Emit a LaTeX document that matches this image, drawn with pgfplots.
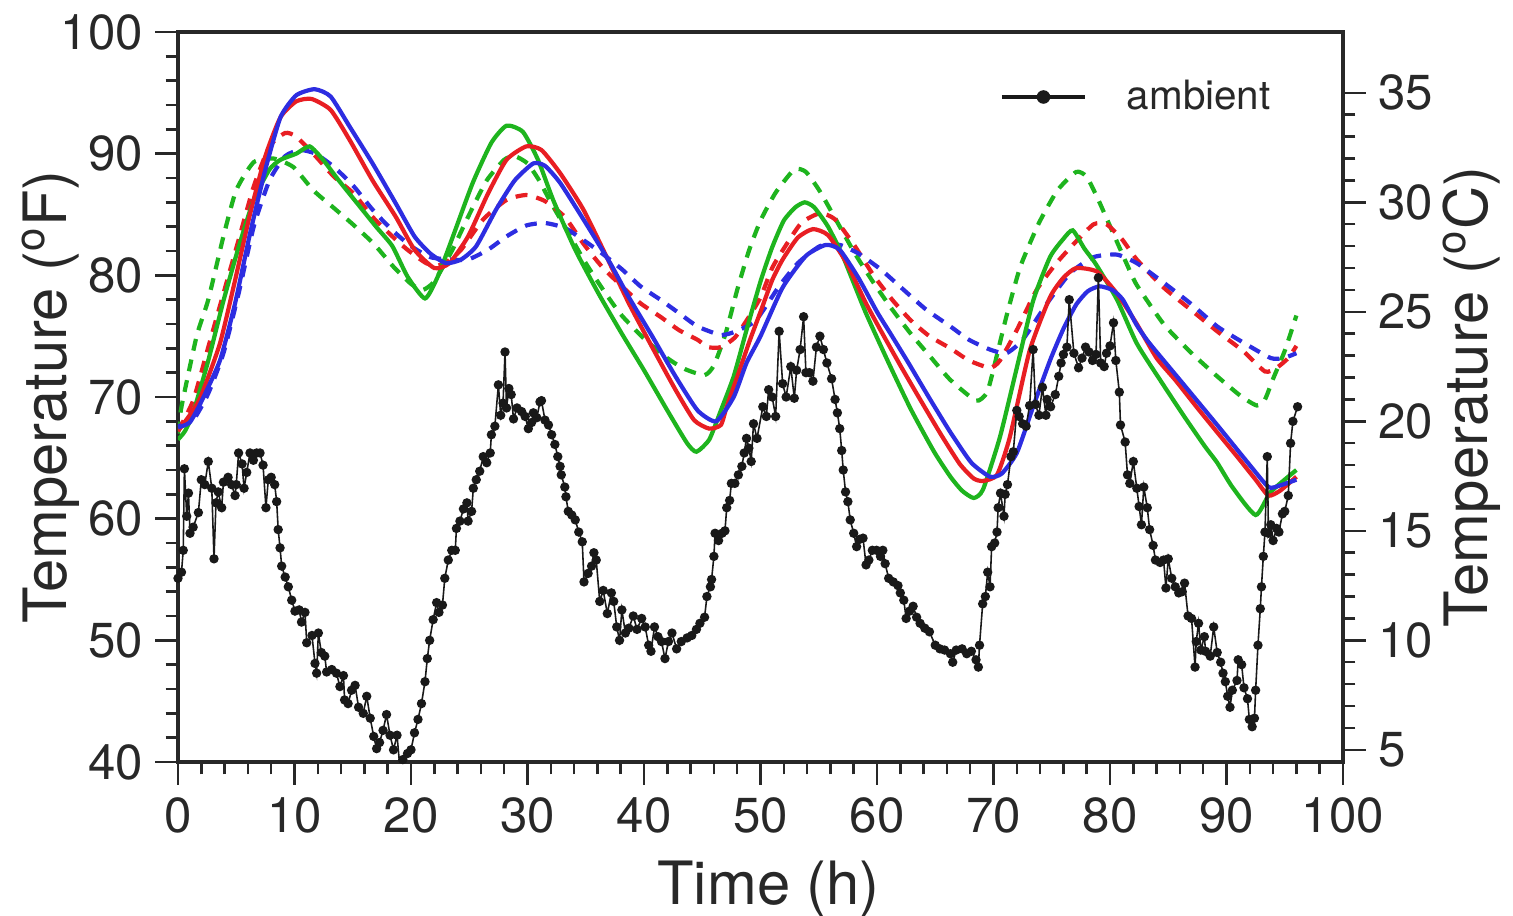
\documentclass[border=0pt]{standalone}
\usepackage{fontspec}
\setmainfont{TeX Gyre Heros}
\usepackage{pgfplots}
\usepackage{pgfplotstable}
\pgfplotsset{compat=1.18}

\definecolor{cgreen}{RGB}{30,180,30}
\definecolor{cred}{RGB}{232,30,35}
\definecolor{cblue}{RGB}{45,45,225}
\definecolor{axgray}{RGB}{40,40,40}

% ambient temperature (F)
\pgfplotstableread{
x y
0 55.1
0.3 55.6
0.45 57.4
0.55 64.1
0.75 60.2
0.9 62.1
1.03 58.8
1.3 59.3
1.75 60.5
2.0 63.2
2.3 62.8
2.6 64.7
2.9 62.5
3.09 56.7
3.26 61.3
3.45 62.2
3.75 60.9
3.9 63.0
4.3 63.4
4.6 62.8
4.9 61.9
5.0 62.8
5.2 65.4
5.5 64.5
5.67 62.5
5.9 63.8
6.18 65.4
6.47 64.8
6.75 65.4
7.04 65.4
7.3 64.4
7.55 60.9
7.75 63.2
8.0 63.4
8.3 62.8
8.47 61.4
8.6 59.1
8.76 57.6
8.9 56.1
9.2 55.2
9.47 54.4
9.76 53.3
10.04 52.4
10.4 52.5
10.6 51.5
10.9 52.3
11.05 49.8
11.5 50.4
11.76 48.1
11.9 47.3
12.05 50.6
12.3 49.0
12.6 48.7
12.76 47.4
13.2 47.6
13.6 47.3
13.9 46.2
14.2 47.1
14.3 45.1
14.6 44.8
14.9 45.9
15.2 46.3
15.5 44.5
15.9 44.0
16.2 45.4
16.5 43.6
16.8 42.1
17.05 41.1
17.3 41.6
17.6 42.6
17.9 43.9
18.2 42.2
18.5 41.0
18.8 42.2
19.06 39.4
19.3 40.2
19.7 40.7
20.0 41.0
20.3 42.4
20.6 43.5
20.9 44.8
21.2 46.6
21.4 48.5
21.6 50.0
21.9 51.7
22.2 53.1
22.4 52.3
22.7 52.9
22.9 55.1
23.2 56.6
23.5 57.4
23.8 57.4
23.9 59.2
24.2 59.8
24.5 60.8
24.8 61.3
24.9 59.8
25.2 60.6
25.35 62.5
25.6 63.2
25.9 63.9
26.2 65.1
26.5 64.6
26.8 65.4
26.9 66.9
27.2 67.6
27.5 71.0
27.7 68.5
27.9 69.5
28.07 73.7
28.2 69.1
28.4 70.7
28.6 70.2
28.8 68.2
29.1 69.1
29.5 68.8
29.8 68.4
30.07 67.4
30.35 67.9
30.5 68.7
30.8 68.3
31.07 69.6
31.2 69.7
31.5 68.1
31.8 67.7
32.07 66.9
32.35 66.1
32.6 65.1
32.8 64.3
32.9 63.6
33.2 62.6
33.3 61.8
33.5 60.6
33.8 60.3
34.1 59.9
34.4 58.9
34.7 58.1
34.85 54.8
35.2 55.5
35.5 56.1
35.7 57.2
35.9 56.6
36.2 53.2
36.5 54.1
36.85 52.2
37.2 53.9
37.4 53.2
37.66 51.1
37.9 50.0
38.1 52.5
38.4 50.6
38.7 51.0
39.08 52.0
39.4 50.9
39.8 51.8
40.1 51.1
40.4 49.6
40.6 49.1
40.9 51.1
41.2 50.3
41.5 49.9
41.8 48.5
42.1 49.9
42.4 50.6
42.8 49.3
43.2 49.9
43.7 50.2
44.1 50.4
44.5 50.9
44.8 51.4
45.2 51.9
45.4 53.6
45.7 54.4
45.8 55.0
46.0 56.9
46.1 58.8
46.4 58.2
46.7 58.8
46.95 59.0
47.1 60.9
47.35 61.5
47.5 62.9
47.8 62.9
48.1 63.6
48.4 64.3
48.6 65.4
48.8 66.6
49.0 65.8
49.2 64.7
49.4 67.8
49.7 66.6
50.2 69.2
50.5 68.4
50.7 70.6
51.0 70.0
51.3 68.4
51.6 75.4
51.9 71.1
52.2 70.0
52.6 72.5
52.9 69.9
53.1 72.2
53.4 73.9
53.7 76.6
53.9 72.0
54.2 72.0
54.5 71.3
54.8 74.1
55.1 75.0
55.4 73.9
55.7 72.8
56.1 71.5
56.4 69.8
56.6 68.7
56.8 67.4
56.97 65.6
57.1 64.0
57.3 62.2
57.5 61.4
57.7 59.9
58.0 58.8
58.25 57.7
58.5 58.3
58.8 58.4
59.06 56.2
59.3 56.6
59.6 57.4
59.96 57.4
60.3 56.9
60.5 57.4
60.7 56.3
61.0 55.1
61.4 54.8
61.8 54.5
62.0 53.9
62.3 53.3
62.5 51.8
62.8 52.4
63.1 52.8
63.4 51.9
63.7 51.4
64.1 51.0
64.5 50.7
65.0 49.6
65.4 49.3
65.8 49.2
66.3 48.9
66.5 48.2
66.8 49.2
67.3 49.3
67.7 48.9
68.1 49.1
68.5 48.4
68.7 47.8
68.8 49.6
69.07 53.0
69.3 53.6
69.5 55.6
69.7 54.4
69.84 57.7
70.1 58.0
70.3 58.9
70.4 60.9
70.6 62.1
70.9 60.2
71.0 62.0
71.2 62.8
71.5 65.1
71.7 65.5
72.0 68.9
72.2 68.4
72.5 67.8
72.8 67.6
73.1 69.3
73.4 73.9
73.6 69.4
73.9 68.5
74.2 70.8
74.5 68.5
74.6 69.8
74.9 69.2
75.3 70.2
75.6 71.7
75.8 72.8
76.0 73.5
76.3 74.1
76.5 78.0
76.9 73.6
77.3 72.4
77.6 73.2
77.9 74.1
78.2 73.7
78.5 73.0
78.8 73.5
79.0 79.8
79.2 72.8
79.5 72.5
79.7 73.6
80.0 74.2
80.3 76.1
80.5 73.0
80.8 70.4
80.9 67.7
81.3 66.3
81.5 63.6
81.7 62.9
82.0 64.7
82.3 62.5
82.5 61.0
82.7 59.5
82.9 62.6
83.2 60.9
83.4 59.1
83.7 57.8
83.9 56.6
84.3 56.4
84.6 56.6
84.8 54.3
85.0 56.7
85.3 55.1
85.6 54.4
85.9 53.9
86.2 54.0
86.4 54.7
86.7 52.0
87.0 51.8
87.3 47.8
87.4 49.9
87.6 51.4
87.8 49.2
88.1 50.3
88.2 49.1
88.6 48.7
88.9 51.1
89.2 49.0
89.5 48.2
89.7 47.3
89.9 46.6
90.1 45.4
90.3 44.5
90.5 45.9
90.9 46.7
91.0 48.4
91.3 48.0
91.5 46.1
91.8 45.2
91.96 43.5
92.2 42.9
92.4 43.6
92.5 45.9
92.7 49.6
92.9 52.6
93.0 54.4
93.16 56.9
93.3 58.9
93.5 65.1
93.6 58.8
93.8 59.5
94.0 58.2
94.3 59.2
94.5 58.9
94.8 60.4
95.0 60.6
95.3 61.9
95.5 66.2
95.7 68.0
96.1 69.2
}\ambient

% solid green
\pgfplotstableread{
x y
0 66.5
0.6 67.2
1.3 68.7
2.6 73.0
3.9 77.9
5.2 82.3
6.5 86.2
7.85 88.7
8.8 89.5
10.15 90.0
11.3 90.6
12.45 89.5
13.8 87.8
15.4 85.9
17.0 84.0
18.4 82.4
19.7 79.9
21.2 78.1
22.3 79.9
23.6 83.2
25.3 87.6
26.9 90.9
28.2 92.3
29.6 91.8
30.9 89.5
32.2 86.2
34.1 82.1
36.1 78.5
38.1 75.2
40.0 72.2
42.0 68.9
43.7 66.2
44.5 65.5
45.6 66.5
46.6 68.9
47.7 71.7
48.8 75.5
50.0 79.5
51.0 82.3
52.0 84.5
53.0 85.6
53.8 86.0
54.6 85.6
55.8 84.0
57.1 81.5
59.0 77.0
61.0 72.8
62.9 69.0
64.9 65.5
66.3 63.45
67.3 62.3
68.3 61.7
69.1 62.4
70.55 66.7
72.0 72.4
73.4 77.9
74.85 81.5
76.0 83.0
76.8 83.7
77.8 82.2
78.8 80.9
80.6 78.0
82.3 74.4
84.3 71.4
86.3 68.5
88.1 66.0
89.2 64.6
90.5 62.6
92.5 60.3
93.8 62.2
96.0 64.0
}\sgreen

% solid red
\pgfplotstableread{
x y
0 67.2
1.0 68.5
1.94 70.0
3.6 74.4
4.9 79.6
6.2 85.1
7.5 89.8
8.8 93.0
10.15 94.3
11.46 94.5
13.1 93.6
14.75 91.1
16.7 87.8
18.7 84.8
20.3 82.1
22.0 80.6
23.3 81.0
24.9 83.2
26.6 86.7
28.2 89.5
29.9 90.6
31.2 90.3
32.8 88.4
34.8 85.4
36.8 81.5
38.7 77.7
40.7 74.1
42.7 70.6
44.3 68.1
45.6 67.4
46.6 67.7
47.1 69.2
48.2 72.2
49.1 74.7
50.0 77.0
51.0 79.6
51.9 81.3
53.2 83.1
54.5 83.8
55.8 83.3
57.4 81.0
59.0 77.8
60.3 75.5
62.0 72.6
63.7 69.8
65.5 66.9
67.1 64.5
68.3 63.3
69.1 63.1
70.3 63.6
71.4 66.7
73.1 73.8
74.85 78.2
76.0 79.8
77.1 80.6
78.9 80.3
80.6 78.5
82.3 76.0
84.0 73.2
85.6 71.4
87.5 69.1
89.2 67.1
91.0 65.0
92.5 63.2
93.6 61.9
94.6 62.3
96.0 63.45
}\sred

% solid blue
\pgfplotstableread{
x y
0 67.5
1.0 67.9
1.94 69.5
3.6 73.0
4.9 77.7
6.2 83.5
7.5 88.7
8.8 93.0
10.15 94.8
11.73 95.3
13.1 94.7
14.75 92.2
16.7 89.2
18.7 85.9
20.3 83.2
21.65 81.8
23.0 81.0
24.3 81.3
25.6 82.4
27.3 85.4
28.9 87.8
30.5 89.2
31.5 89.0
32.8 87.6
34.8 84.6
37.1 81.0
38.7 78.2
40.7 75.0
42.7 71.7
44.6 68.9
46.2 68.0
47.7 70.0
48.8 72.8
50.0 75.0
51.9 79.0
53.9 81.6
55.6 82.5
56.8 82.1
58.4 79.8
60.0 77.0
61.1 75.3
62.7 72.8
64.5 69.9
66.3 67.1
68.1 64.6
69.7 63.45
70.7 63.7
72.0 65.4
73.4 69.2
74.85 73.0
76.0 75.6
77.1 77.6
78.1 78.7
79.1 79.1
80.2 78.8
81.1 78.0
82.3 75.9
83.4 74.4
86.0 71.4
89.2 67.7
92.0 64.4
93.6 62.6
94.5 62.7
96.0 63.2
}\sblue

% dashed green
\pgfplotstableread{
x y
0 67.0
0.3 69.2
1.6 75.0
2.6 78.0
3.9 83.2
5.0 87.0
6.5 89.3
8.2 89.6
9.9 88.9
11.6 87.0
13.3 85.6
15.0 84.2
16.8 82.6
18.5 80.7
20.0 79.3
21.0 78.8
22.0 79.5
23.5 82.0
25.0 85.0
26.5 87.8
28.0 89.5
28.9 89.8
30.0 89.2
31.0 87.8
32.0 86.0
33.5 83.5
35.0 81.0
36.5 78.8
38.0 76.8
40.0 74.8
42.0 73.2
43.5 72.3
45.2 71.8
46.0 72.6
47.0 75.2
48.0 78.8
49.0 82.0
50.0 84.5
51.3 86.8
52.9 88.7
53.9 88.5
55.1 86.9
56.4 84.7
58.1 81.8
59.7 79.4
61.3 77.2
62.9 75.2
64.5 73.4
66.3 71.4
68.5 69.7
69.4 70.3
69.9 71.9
71.1 76.6
72.3 80.7
73.9 84.3
75.5 87.0
77.1 88.5
78.0 88.1
79.0 86.2
80.3 83.4
81.5 80.8
82.3 79.2
84.6 76.0
86.9 73.7
89.2 71.7
91.2 70.1
92.6 69.3
93.3 69.8
94.0 71.5
95.0 73.8
96.0 76.7
}\dgreen

% dashed red
\pgfplotstableread{
x y
0 67.2
1.3 69.7
2.6 74.1
3.9 78.5
5.2 82.9
6.5 87.3
7.85 90.6
9.2 91.7
10.15 91.4
11.8 89.8
13.4 88.1
15.1 86.7
16.7 84.8
18.4 83.2
19.7 82.1
21.3 81.0
22.3 80.8
23.2 81.2
24.3 82.1
26.2 84.6
28.2 86.2
29.9 86.6
31.5 86.1
33.2 84.8
34.8 82.6
36.4 80.7
38.1 79.1
39.7 77.7
41.4 76.6
43.0 75.5
44.6 74.7
45.5 74.1
46.6 74.1
47.9 75.0
49.9 78.0
51.0 80.6
52.0 82.2
53.5 84.3
55.1 85.1
56.4 84.6
58.1 82.4
59.7 80.0
61.3 78.0
62.9 76.3
64.5 75.0
66.3 74.0
67.9 73.0
69.7 72.4
70.55 73.0
72.0 75.5
73.7 78.8
75.4 81.0
77.1 82.8
78.6 84.2
79.7 84.2
81.0 83.0
82.3 81.3
84.6 79.0
86.9 77.2
89.2 75.4
91.4 73.8
93.3 72.1
94.3 72.4
95.3 73.2
96.0 74.2
}\dred

% dashed blue
\pgfplotstableread{
x y
0 67.6
1.3 68.1
2.6 70.3
3.9 73.6
5.2 78.5
6.5 84.0
7.85 87.8
9.2 89.8
10.5 90.3
11.8 90.0
13.4 88.9
15.1 87.3
16.7 85.4
18.4 83.7
20.0 82.4
21.65 81.5
23.3 81.3
24.9 81.3
26.6 82.1
28.2 83.2
29.9 84.1
31.5 84.3
33.2 83.9
34.8 82.9
36.4 81.8
38.1 80.5
39.7 79.1
41.4 78.0
43.0 76.9
44.6 75.8
46.6 75.1
47.9 75.4
49.6 76.3
51.6 79.1
53.2 81.0
55.1 82.4
56.8 82.5
58.4 81.8
60.3 80.5
62.3 78.8
64.2 77.2
66.3 75.8
67.9 74.7
69.7 73.9
71.1 73.6
72.5 74.7
74.6 77.7
76.6 80.2
78.6 81.5
80.6 81.7
82.3 81.0
84.6 79.4
86.9 77.7
89.2 75.8
91.4 74.5
93.8 73.2
94.9 73.2
96.0 73.6
}\dblue

\begin{document}
\begin{tikzpicture}
\useasboundingbox (-1.78cm,-1.54cm) rectangle (13.35cm,7.62cm);
\begin{axis}[
  scale only axis, width=11.65cm, height=7.30cm,
  xmin=0, xmax=100, ymin=40, ymax=100,
  xtick={0,10,...,100}, ytick={40,50,...,100},
  minor x tick num=4, minor y tick num=4,
  xtick pos=bottom, ytick pos=left,
  tick align=outside,
  major tick length=6.5pt, minor tick length=3.5pt,
  tick style={line width=0.7pt, axgray},
  axis line style={line width=1pt, axgray},
  tick label style={font=\fontsize{14}{16}\selectfont, text=axgray},
  /pgf/number format/assume math mode=true,
  every axis x label/.style={at={(axis description cs:0.507,-0.118)}, anchor=north},
  every axis y label/.style={at={(axis description cs:-0.074,0.5)}, rotate=90, anchor=south},
  label style={font=\fontsize{17}{20}\selectfont, text=axgray},
  xlabel={Time (h)},
  ylabel={Temperature (\textsuperscript{o}F)},
  legend style={at={(axis description cs:0.705,0.911)}, anchor=west, draw=none, fill=none,
    font=\fontsize{11.5}{13}\selectfont, text=axgray, inner sep=0pt,
    nodes={inner sep=0pt}, column sep=0.4cm},
  legend image code/.code={
    \draw[#1, line width=1.1pt] (0cm,0cm) -- (0.83cm,0cm);
    \draw[#1, mark size=1.7pt] plot coordinates {(0.415cm,0cm)};},
  solidc/.style={line width=1.2pt, smooth, tension=0.35},
  dashc/.style={line width=1.2pt, smooth, tension=0.35, dash pattern=on 3.4pt off 2.6pt},
]
\addplot[dashc, cgreen, forget plot] table {\dgreen};
\addplot[dashc, cred, forget plot] table {\dred};
\addplot[dashc, cblue, forget plot] table {\dblue};
\addplot[solidc, cgreen, forget plot] table {\sgreen};
\addplot[solidc, cred, forget plot] table {\sred};
\addplot[solidc, cblue, forget plot] table {\sblue};
\addplot[black!90, line width=0.45pt, mark=*, mark size=1.1pt,
  mark options={solid, fill=black!90}] table {\ambient};
\addlegendentry{ambient}
\end{axis}
\begin{axis}[
  scale only axis, width=11.65cm, height=7.30cm,
  xmin=0, xmax=100, ymin=4.4444, ymax=37.7778,
  hide x axis, axis y line*=right,
  ytick={5,10,...,35}, minor y tick num=4,
  tick align=outside,
  major tick length=6.5pt, minor tick length=3.5pt,
  tick style={line width=0.7pt, axgray},
  axis line style={line width=1pt, axgray},
  tick label style={font=\fontsize{14}{16}\selectfont, text=axgray},
  /pgf/number format/assume math mode=true,
  every axis y label/.style={at={(axis description cs:1.075,0.5)}, rotate=90, anchor=north},
  label style={font=\fontsize{17}{20}\selectfont, text=axgray},
  ylabel={Temperature (\textsuperscript{o}C)},
]
\end{axis}
\end{tikzpicture}
\end{document}
